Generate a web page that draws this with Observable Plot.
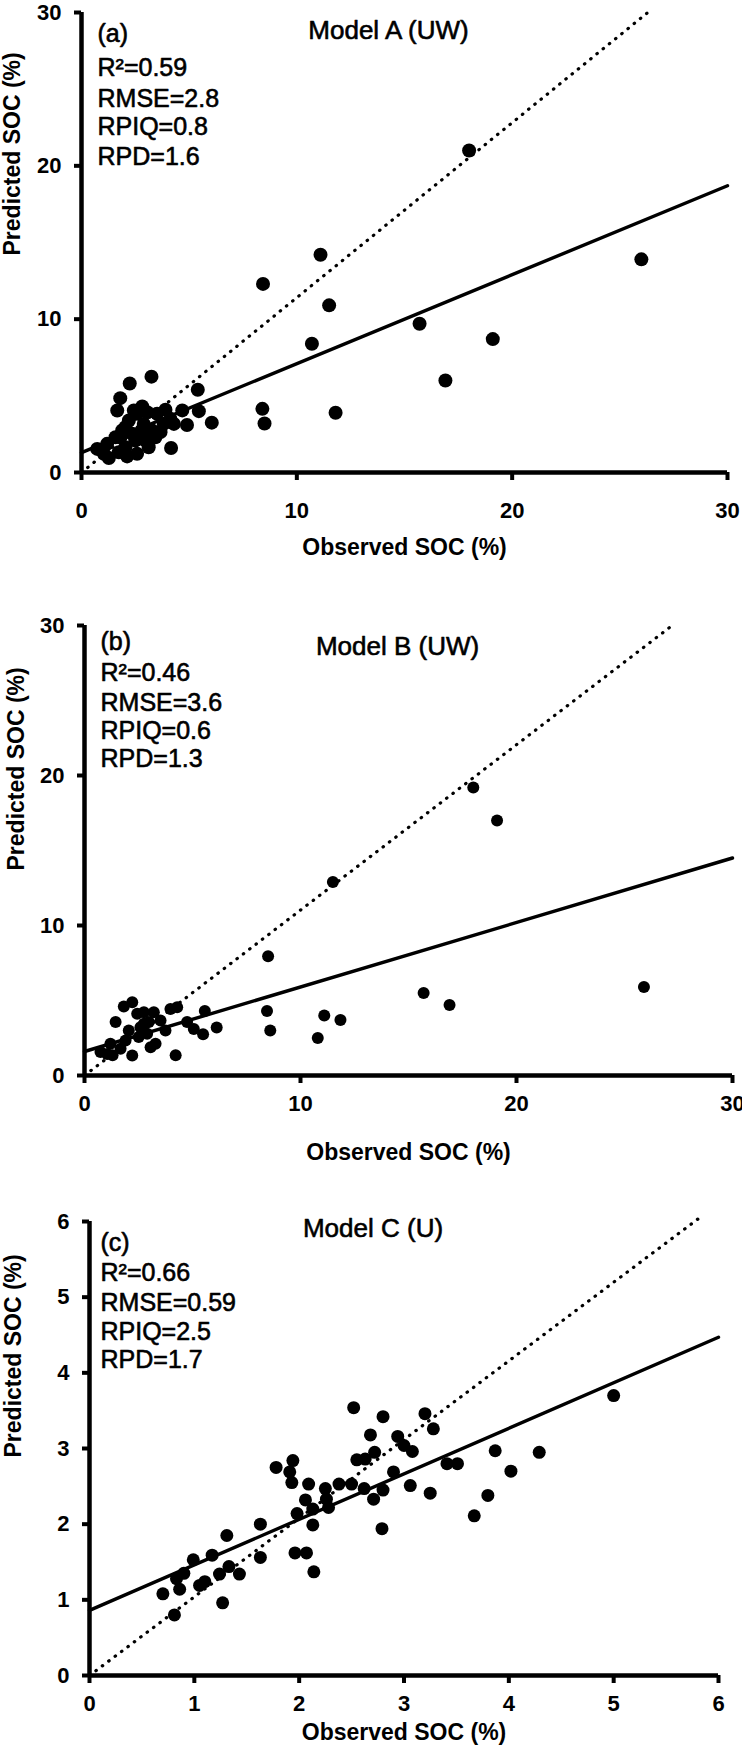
<!DOCTYPE html>
<html><head><meta charset="utf-8">
<script src="https://cdn.jsdelivr.net/npm/d3@7"></script>
<script src="https://cdn.jsdelivr.net/npm/@observablehq/plot@0.6"></script>
<style>
html,body{margin:0;padding:0;background:#fff;}
#chart{width:742px;}
#chart svg{display:block;}
</style></head><body><div id="chart"></div>
<script>
// ---------- DATA ----------
// Panel (a) Model A (UW)
const observedA = [18.0,11.1,8.43,11.5,26.0,15.7,10.7,19.1,16.9,11.8,8.4,8.5,
  3.25,2.24,1.8,1.66,5.4,5.45,6.05,4.9,4.68,4.16,3.9,4.29,4.13,
  0.73,1.19,1.27,1.58,1.89,2.12,2.04,2.5,2.58,3.05,3.12,2.74,2.89,3.28,3.51,3.82,2.2,1.81,2.35,2.97,3.43,1.73,2.58,3.67,1.04,2.43,2.82,2.04];
const predictedA = [21.0,14.2,12.3,10.9,13.9,9.7,8.4,8.7,6.0,3.9,4.15,3.2,
  6.25,5.8,4.85,4.04,5.4,4.0,3.25,3.1,4.05,1.6,4.1,3.17,3.5,
  1.54,1.87,0.95,2.3,2.74,1.05,1.65,2.09,3.83,3.93,1.65,2.63,3.17,2.74,3.83,3.17,3.39,2.3,2.52,2.09,2.3,1.32,1.22,2.63,1.22,4.04,4.3,2.96];
const fitA = {x: [0, 30], y: [1.3, 18.7]};
const diagA = {x: [0, 26.3], y: [0, 30]};
const statsA = ["R²=0.59", "RMSE=2.8", "RPIQ=0.8", "RPD=1.6"];

// Panel (b) Model B (UW)
const observedB = [18.0,19.1,11.5,8.5,25.9,15.7,16.9,8.45,8.6,11.1,11.85,10.8,
  5.57,6.12,5.49,4.22,4.29,5.06,4.75,3.98,
  2.21,1.82,1.44,2.98,3.21,2.59,3.52,0.74,1.2,1.05,1.67,2.21,2.51,2.9,3.29,3.75,2.05,2.44,2.75,1.9,3.06,2.75,1.3];
const predictedB = [19.2,17.0,12.9,7.95,5.9,5.5,4.7,4.3,3.0,4.0,3.7,2.5,
  4.3,3.2,2.75,1.35,4.55,3.1,3.56,4.44,
  4.89,4.6,3.56,3.56,4.22,3.22,3.67,1.56,2.11,1.44,1.78,1.33,2.56,2.78,2.11,3.0,3.0,4.11,4.22,2.33,1.89,3.45,1.35];
const fitB = {x: [0, 30], y: [1.6, 14.5]};
const diagB = {x: [0, 27.3], y: [0, 30.1]};
const statsB = ["R²=0.46", "RMSE=3.6", "RPIQ=0.6", "RPD=1.3"];

// Panel (c) Model C (U)
const observedC = [2.52,2.80,3.20,3.28,2.68,2.94,3.0,3.08,2.55,2.63,2.72,2.9,3.06,3.25,3.41,3.51,3.87,4.29,4.02,3.8,3.67,2.79,2.8,2.71,2.62,2.5,2.38,2.25,2.26,2.28,2.09,2.06,2.13,2.13,1.98,1.94,1.91,1.93,1.78,1.96,2.07,2.14,1.63,1.63,1.31,1.17,0.99,1.24,1.33,1.43,0.9,0.83,0.86,0.7,1.05,1.1,1.27,0.81,5.0];
const predictedC = [3.54,3.42,3.46,3.26,3.18,3.16,3.04,2.96,2.85,2.86,2.95,2.69,2.51,2.41,2.8,2.8,2.97,2.95,2.7,2.38,2.11,1.94,2.45,2.33,2.47,2.53,2.53,2.47,2.33,2.22,2.53,2.32,2.2,1.99,2.14,2.84,2.69,2.55,2.75,1.62,1.62,1.37,2.0,1.56,1.85,1.59,1.53,1.34,1.44,1.34,1.35,1.28,1.14,1.08,1.19,1.24,0.96,0.8,3.7];
const fitC = {x: [0, 6], y: [0.86, 4.47]};
const diagC = {x: [0, 5.83], y: [0, 6.06]};
const statsC = ["R²=0.66", "RMSE=0.59", "RPIQ=2.5", "RPD=1.7"];

const ticks30 = [0, 10, 20, 30];
const ticks6 = [0, 1, 2, 3, 4, 5, 6];
const titles = ["Model A (UW)", "Model B (UW)", "Model C (U)"];
const letters = ["(a)", "(b)", "(c)"];
const xTitle = "Observed SOC (%)";
const yTitle = "Predicted SOC (%)";

// ---------- DRAW ----------
const FONT = "'Liberation Sans', Arial, Helvetica, sans-serif";

function pairs(xs, ys) { return xs.map((x, i) => ({x, y: ys[i]})); }

function panel(cfg) {
  const pts = pairs(cfg.obs, cfg.pred);
  const fit = pairs(cfg.fit.x, cfg.fit.y);
  const diag = pairs(cfg.diag.x, cfg.diag.y);
  const heavy = {fill: "black", stroke: "black", strokeWidth: 0.6};
  const marks = [
    Plot.line(diag, {x: "x", y: "y", stroke: "black", strokeWidth: 3.2, strokeDasharray: "0.5 7.5", strokeLinecap: "round"}),
    Plot.line(fit, {x: "x", y: "y", stroke: "black", strokeWidth: 3.4}),
    Plot.dot(pts, {x: "x", y: "y", r: cfg.r, fill: "black", stroke: "none"}),
    Plot.ruleX([cfg.domain[0]], {stroke: "black", strokeWidth: 4.5}),
    Plot.ruleY([cfg.domain[0]], {stroke: "black", strokeWidth: 4.5}),
    Plot.axisX({ticks: cfg.ticks, tickSize: 8, tickPadding: cfg.xPad, strokeWidth: 4, fontSize: 22, fontWeight: "bold", label: null, tickFormat: d => String(d)}),
    Plot.axisY({ticks: cfg.ticks, tickSize: 7, tickPadding: 13, strokeWidth: 4, fontSize: 22, fontWeight: "bold", label: null, tickFormat: d => String(d)}),
    Plot.text([cfg.title], {text: d => d, frameAnchor: "top", lineAnchor: "middle", dx: cfg.titleDx, dy: cfg.titleDy, fontSize: 26, ...heavy}),
    Plot.text([cfg.letter], {text: d => d, frameAnchor: "top-left", textAnchor: "start", lineAnchor: "middle", dx: cfg.textDx, dy: cfg.letterDy, fontSize: 25, ...heavy}),
    ...cfg.stats.map((s, i) => Plot.text([s], {text: d => d, frameAnchor: "top-left", textAnchor: "start", lineAnchor: "middle", dx: cfg.textDx, dy: cfg.statDy[i], fontSize: 25, ...heavy})),
    Plot.text([xTitle], {text: d => d, frameAnchor: "bottom", lineAnchor: "middle", dy: cfg.xTitleDy, fontSize: 23, fontWeight: "bold", fill: "black"}),
    Plot.text([yTitle], {text: d => d, frameAnchor: "left", lineAnchor: "middle", rotate: -90, dx: cfg.yTitleDx, dy: cfg.yTitleDy, fontSize: 23, fontWeight: "bold", fill: "black"})
  ];
  return Plot.plot({
    width: 742,
    height: cfg.height,
    marginTop: cfg.mt, marginBottom: cfg.mb, marginLeft: cfg.ml, marginRight: cfg.mr,
    style: {fontFamily: FONT, background: "white", color: "black", overflow: "visible"},
    x: {domain: cfg.domain, label: null},
    y: {domain: cfg.domain, label: null},
    marks
  });
}

const chart = document.getElementById("chart");
chart.append(panel({
  obs: observedA, pred: predictedA, fit: fitA, diag: diagA, stats: statsA,
  title: titles[0], letter: letters[0], domain: [0, 30], ticks: ticks30, r: 7,
  height: 575, mt: 12, mb: 103, ml: 81, mr: 15, xPad: 22,
  titleDx: -16, titleDy: 18, textDx: 16, letterDy: 21, statDy: [55, 86, 114, 144],
  xTitleDy: 75, yTitleDx: -69, yTitleDy: 13
}));
chart.append(panel({
  obs: observedB, pred: predictedB, fit: fitB, diag: diagB, stats: statsB,
  title: titles[1], letter: letters[1], domain: [0, 30], ticks: ticks30, r: 6,
  height: 610, mt: 50, mb: 110, ml: 84, mr: 10, xPad: 12,
  titleDx: -11, titleDy: 21, textDx: 16, letterDy: 16, statDy: [47, 77, 105, 133],
  xTitleDy: 77, yTitleDx: -68, yTitleDy: 20
}));
chart.append(panel({
  obs: observedC, pred: predictedC, fit: fitC, diag: diagC, stats: statsC,
  title: titles[2], letter: letters[2], domain: [0, 6], ticks: ticks6, r: 6.5,
  height: 565, mt: 36, mb: 75, ml: 89, mr: 24, xPad: 12,
  titleDx: -31, titleDy: 7, textDx: 11, letterDy: 21, statDy: [51, 81, 110, 138],
  xTitleDy: 57, yTitleDx: -76, yTitleDy: 9
}));
</script>
</body></html>
